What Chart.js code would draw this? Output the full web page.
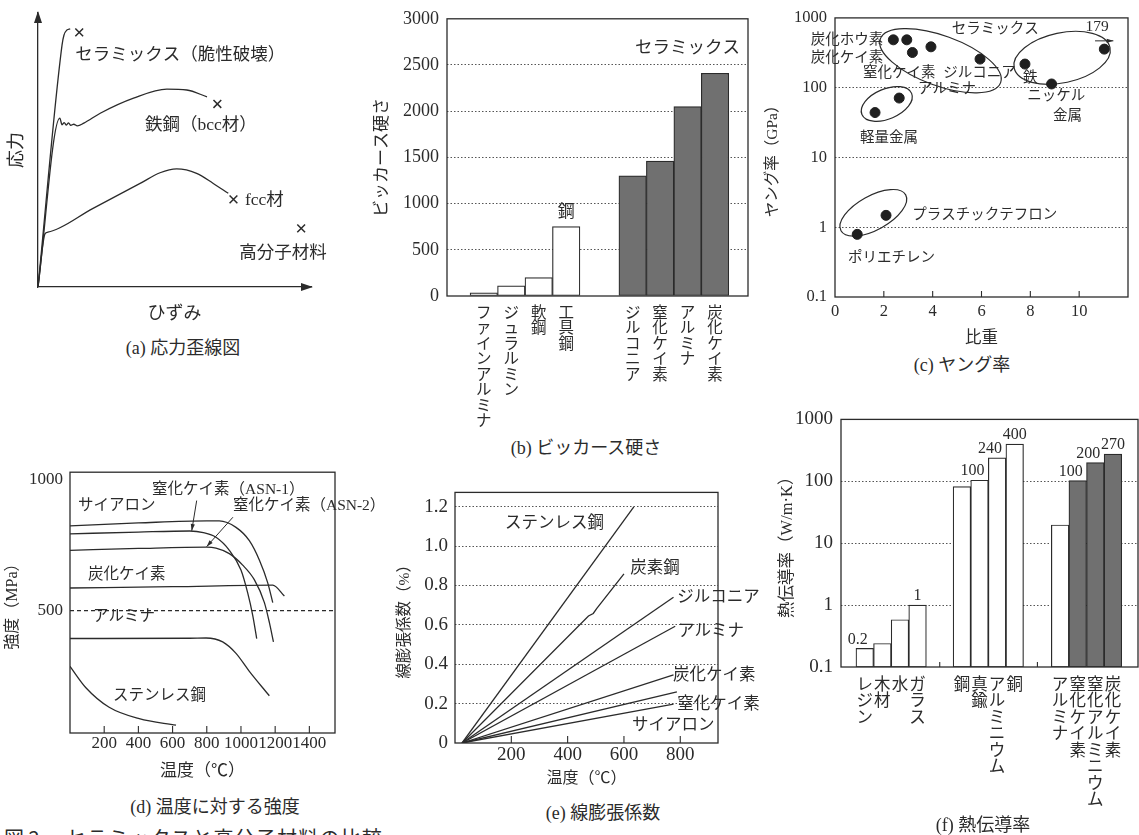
<!DOCTYPE html>
<html lang="ja">
<head>
<meta charset="utf-8">
<title>図2 セラミックスと高分子材料の比較</title>
<script src="https://cdn.jsdelivr.net/npm/chart.js@4.4.1/dist/chart.umd.min.js"></script>
<style>
  html, body { margin: 0; padding: 0; background: #fff; }
  body { position: relative; width: 1139px; height: 835px; overflow: hidden; color: #2b2b2b;
         font-family: 'Liberation Serif', 'Noto Sans CJK JP', serif; }
  canvas { position: absolute; }
  .cap { position: absolute; font-size: 18px; line-height: 1; white-space: nowrap; transform: translate(-50%, -50%); }
  .fig { position: absolute; left: 4px; top: 828px; font-family: 'Noto Sans CJK JP', sans-serif;
         font-size: 20px; line-height: 1; white-space: nowrap; }
  .fig span + span { margin-left: 26px; letter-spacing: 1.2px; }
</style>
</head>
<body>
<canvas id="chartA"></canvas>
<canvas id="chartB"></canvas>
<canvas id="chartC"></canvas>
<canvas id="chartD"></canvas>
<canvas id="chartE"></canvas>
<canvas id="chartF"></canvas>

<div class="cap" style="left:183px; top:348px">(a) 応力歪線図</div>
<div class="cap" style="left:586px; top:448px">(b) ビッカース硬さ</div>
<div class="cap" style="left:962px; top:365px">(c) ヤング率</div>
<div class="cap" style="left:215px; top:807px">(d) 温度に対する強度</div>
<div class="cap" style="left:603px; top:813px">(e) 線膨張係数</div>
<div class="cap" style="left:983px; top:825px">(f) 熱伝導率</div>
<div class="fig"><span>図 2</span><span>セラミックスと高分子材料の比較</span></div>

<script>
// ---- (a) stress-strain sketch (arbitrary units 0-100) ----
const ceramicStrain = [0, 8.8, 9.5, 10.6, 11.8];
const ceramicStress = [0, 88.3, 91.9, 93.8, 94.2];
const bccStrain = [0, 8.0, 8.8, 9.6, 10.4, 11.2, 12.0, 13.1, 14.4, 16.8, 22.8, 35, 47.2, 54.5, 61.9];
const bccStress = [0, 61.6, 59.2, 60.0, 59.1, 59.9, 59.0, 59.4, 58.8, 59.8, 63.4, 68.9, 72.2, 71.9, 69.4];
const fccStrain = [0, 2.6, 3.6, 20, 37.4, 44.7, 50.8, 58.1, 64.2, 69.7];
const fccStress = [0, 19.5, 20.0, 28.6, 37.8, 41.7, 43.1, 41.5, 37.8, 34.2];
const breakStrain = [15.1, 65.7, 71.6, 96.4];
const breakStress = [92.9, 66.8, 32.0, 21.4];

// ---- (b) Vickers hardness ----
const hardnessNames = ['ファインアルミナ', 'ジュラルミン', '軟鋼', '工具鋼', 'ジルコニア', '窒化ケイ素', 'アルミナ', '炭化ケイ素'];
const hardnessValues = [35, 110, 200, 750, 1300, 1460, 2050, 2410];
const hardnessSlots = [1.34, 2.34, 3.34, 4.34, 6.76, 7.76, 8.76, 9.76];
const hardnessCeramic = [false, false, false, false, true, true, true, true];
const hardnessTicks = [0, 500, 1000, 1500, 2000, 2500, 3000];

// ---- (c) Young's modulus vs specific gravity ----
const specificGravity = [2.39, 2.94, 3.17, 3.93, 5.94, 7.78, 8.87, 11.03, 1.64, 2.63, 0.91, 2.09];
const youngModulus = [485, 485, 319, 385, 257, 218, 113, 357, 44, 71, 0.79, 1.48];
const gravityTicks = [0, 2, 4, 6, 8, 10];
const youngTicks = [0.1, 1, 10, 100, 1000];
const youngTickLabels = ['0.1', '1', '10', '100', '1000'];

// ---- (d) strength vs temperature ----
const sialonT = [0, 400, 800, 873, 971, 1049, 1108, 1157, 1186];
const sialonS = [824, 835, 843, 843, 818, 767, 692, 604, 529];
const asn1T = [0, 400, 700, 780, 854, 932, 1000, 1039, 1069, 1092];
const asn1S = [793, 800, 804, 798, 780, 730, 654, 567, 479, 391];
const asn2T = [0, 400, 800, 854, 932, 1010, 1078, 1137, 1166, 1190];
const asn2S = [730, 737, 742, 738, 717, 673, 617, 529, 453, 378];
const sicT = [0, 600, 1186, 1254];
const sicS = [585, 590, 596, 554];
const aluminaT = [0, 700, 796, 893, 971, 1049, 1166];
const aluminaS = [391, 392, 393, 378, 334, 265, 171];
const stainlessT = [0, 93, 229, 405, 620];
const stainlessS = [284, 202, 127, 83, 58];
const strengthTempTicks = [200, 400, 600, 800, 1000, 1200, 1400];
const strengthTicks = [500, 1000];

// ---- (e) linear thermal expansion ----
const stainlessExpT = [25, 635];
const stainlessExp = [0, 1.2];
const carbonExpT = [25, 474, 491, 503, 600];
const carbonExp = [0, 0.645, 0.658, 0.683, 0.859];
const zirconiaExpT = [25, 776];
const zirconiaExp = [0, 0.74];
const aluminaExpT = [25, 782];
const aluminaExp = [0, 0.593];
const sicExpT = [25, 776];
const sicExp = [0, 0.346];
const si3n4ExpT = [25, 788];
const si3n4Exp = [0, 0.26];
const sialonExpT = [25, 776];
const sialonExp = [0, 0.198];
const expTempTicks = [200, 400, 600, 800];
const expTicks = [0, 0.2, 0.4, 0.6, 0.8, 1.0, 1.2];
const expTickLabels = ['0', '0.2', '0.4', '0.6', '0.8', '1.0', '1.2'];

// ---- (f) thermal conductivity ----
const thermalNames = ['レジン', '木材', '水', 'ガラス', '鋼', '真鍮', 'アルミニウム', '銅', 'アルミナ', '窒化ケイ素', '窒化アルミニウム', '炭化ケイ素'];
const thermalValues = [0.2, 0.24, 0.58, 1, 82, 104, 240, 400, 19.7, 103, 200, 275];
const thermalLabels = ['0.2', '', '', '1', '', '100', '240', '400', '', '100', '200', '270'];
const thermalSlots = [1.35, 2.35, 3.35, 4.35, 6.87, 7.87, 8.87, 9.87, 12.45, 13.45, 14.45, 15.45];
const thermalCeramic = [false, false, false, false, false, false, false, false, false, true, true, true];
const thermalTicks = [0.1, 1, 10, 100, 1000];
const thermalTickLabels = ['0.1', '1', '10', '100', '1000'];

const TEXT = "'Liberation Serif', 'Noto Sans CJK JP', serif";
const JP = "'Noto Sans CJK JP', sans-serif";
const INK = '#2b2b2b';
const GREY = '#707070';
const CLEAR = 'rgba(0,0,0,0)';

Chart.defaults.font.family = TEXT;
Chart.defaults.color = INK;
Chart.defaults.animation = false;
Chart.defaults.responsive = false;
Chart.defaults.plugins.legend.display = false;
Chart.defaults.plugins.tooltip.enabled = false;

const pts = (xs, ys) => xs.map((x, i) => ({ x: x, y: ys[i] }));
const fixTicks = values => scale => { scale.ticks = values.map(v => ({ value: v })); };

// size the canvas so that the plot box lands where the figure has it
function place(id, area, pad) {
    const c = document.getElementById(id);
    const w = area.r - area.l + pad.left + pad.right;
    const h = area.b - area.t + pad.top + pad.bottom;
    c.width = w;
    c.height = h;
    c.style.left = (area.l - pad.left) + 'px';
    c.style.top = (area.t - pad.top) + 'px';
    c.style.width = w + 'px';
    c.style.height = h + 'px';
}
const layoutFor = pad => ({ padding: { top: pad.top, right: pad.right, left: 0, bottom: 0 } });

const curve = (xs, ys, smooth) => ({
    data: pts(xs, ys),
    borderColor: INK,
    borderWidth: 1.3,
    pointRadius: 0,
    fill: false,
    cubicInterpolationMode: smooth ? 'monotone' : 'default',
    tension: 0
});

const dottedGrid = keep => ({
    color: c => keep(c.tick.value) ? '#555' : CLEAR,
    lineWidth: 1,
    drawTicks: false
});

// plot box outline
const framePlugin = {
    id: 'frame',
    afterDatasetsDraw(chart) {
        const { ctx, chartArea: a } = chart;
        ctx.save();
        ctx.strokeStyle = INK;
        ctx.lineWidth = 1.3;
        ctx.strokeRect(a.left, a.top, a.right - a.left, a.bottom - a.top);
        ctx.restore();
    }
};

// short tick marks pointing into the plot from the bottom edge
function innerTicks(len, values) {
    return {
        id: 'innerTicks',
        afterDatasetsDraw(chart) {
            const { ctx, chartArea: a } = chart;
            const sc = chart.scales.x;
            const list = values || sc.ticks.map(t => t.value);
            ctx.save();
            ctx.strokeStyle = INK;
            ctx.lineWidth = 1.1;
            list.forEach(v => {
                const px = sc.getPixelForValue(v);
                if (px <= a.left + 1 || px >= a.right - 1) return;
                ctx.beginPath();
                ctx.moveTo(px, a.bottom);
                ctx.lineTo(px, a.bottom - len);
                ctx.stroke();
            });
            ctx.restore();
        }
    };
}

// text labels and arrows placed in data units
function notes(items, size, arrows) {
    return {
        id: 'notes',
        afterDraw(chart) {
            const { ctx } = chart;
            const xs = chart.scales.x, ys = chart.scales.y;
            ctx.save();
            ctx.fillStyle = INK;
            ctx.strokeStyle = INK;
            ctx.lineWidth = 1;
            ctx.textBaseline = 'middle';
            items.forEach(n => {
                ctx.font = (n.size || size) + 'px ' + TEXT;
                ctx.textAlign = n.align || 'left';
                ctx.fillText(n.text, xs.getPixelForValue(n.x), ys.getPixelForValue(n.y));
            });
            (arrows || []).forEach(ar => {
                const x1 = xs.getPixelForValue(ar[0]), y1 = ys.getPixelForValue(ar[1]);
                const x2 = xs.getPixelForValue(ar[2]), y2 = ys.getPixelForValue(ar[3]);
                const ang = Math.atan2(y2 - y1, x2 - x1);
                ctx.beginPath();
                ctx.moveTo(x1, y1);
                ctx.lineTo(x2, y2);
                ctx.stroke();
                ctx.beginPath();
                ctx.moveTo(x2, y2);
                ctx.lineTo(x2 - 7 * Math.cos(ang - 0.3), y2 - 7 * Math.sin(ang - 0.3));
                ctx.lineTo(x2 - 7 * Math.cos(ang + 0.3), y2 - 7 * Math.sin(ang + 0.3));
                ctx.closePath();
                ctx.fill();
            });
            ctx.restore();
        }
    };
}

const axisArrows = {
    id: 'axisArrows',
    afterDraw(chart) {
        const { ctx, chartArea: a } = chart;
        ctx.save();
        ctx.fillStyle = INK;
        ctx.beginPath();
        ctx.moveTo(a.left, a.top - 2);
        ctx.lineTo(a.left - 4, a.top + 10);
        ctx.lineTo(a.left + 4, a.top + 10);
        ctx.closePath();
        ctx.fill();
        ctx.beginPath();
        ctx.moveTo(a.right + 2, a.bottom);
        ctx.lineTo(a.right - 10, a.bottom - 4);
        ctx.lineTo(a.right - 10, a.bottom + 4);
        ctx.closePath();
        ctx.fill();
        ctx.restore();
    }
};

// ================= (a) =================
const areaA = { l: 38, t: 13, r: 311, b: 287 };
const padA = { left: 38, top: 13, right: 25, bottom: 38 };
place('chartA', areaA, padA);
new Chart('chartA', {
    type: 'line',
    data: {
        datasets: [
            curve(ceramicStrain, ceramicStress, true),
            curve(bccStrain, bccStress, true),
            curve(fccStrain, fccStress, true),
            {
                data: pts(breakStrain, breakStress),
                showLine: false,
                pointStyle: 'crossRot',
                pointRadius: 5.5,
                pointBorderColor: INK,
                pointBorderWidth: 1.5
            }
        ]
    },
    options: {
        layout: layoutFor(padA),
        scales: {
            x: {
                type: 'linear', min: 0, max: 100,
                ticks: { display: false },
                grid: { display: false },
                border: { color: INK, width: 1.3 },
                afterFit: s => { s.height = padA.bottom; },
                title: { display: true, text: 'ひずみ', font: { family: JP, size: 18 }, padding: { top: 0, bottom: 2.5 } }
            },
            y: {
                min: 0, max: 100,
                ticks: { display: false },
                grid: { display: false },
                border: { color: INK, width: 1.3 },
                afterFit: s => { s.width = padA.left; },
                title: { display: true, text: '応力', font: { family: JP, size: 18 }, padding: { top: 4, bottom: 0 } }
            }
        }
    },
    plugins: [axisArrows, notes([
        { text: 'セラミックス（脆性破壊）', x: 13.6, y: 84.7 },
        { text: '鉄鋼（bcc材）', x: 39.2, y: 59.1 },
        { text: 'fcc材', x: 75.8, y: 31.7 },
        { text: '高分子材料', x: 89.7, y: 12.4, align: 'center' }
    ], 17.5)]
});

// ================= (b) =================
const areaB = { l: 447, t: 12, r: 748, b: 296 };
const padB = { left: 80, top: 12, right: 8, bottom: 140 };
place('chartB', areaB, padB);
new Chart('chartB', {
    type: 'bar',
    data: {
        datasets: [{
            data: pts(hardnessSlots, hardnessValues),
            backgroundColor: hardnessCeramic.map(c => c ? GREY : '#fff'),
            borderColor: INK,
            borderWidth: 1.2,
            borderSkipped: false,
            barPercentage: 1,
            categoryPercentage: 1
        }]
    },
    options: {
        layout: layoutFor(padB),
        scales: {
            x: {
                type: 'linear', min: 0, max: 10.96, offset: false, bounds: 'data',
                afterBuildTicks: fixTicks(hardnessSlots),
                afterFit: s => { s.height = padB.bottom; },
                grid: { display: false, drawTicks: false },
                border: { display: false },
                ticks: {
                    autoSkip: false, maxRotation: 0, minRotation: 0, padding: 8,
                    font: { family: JP, size: 15.5, lineHeight: 1.0 },
                    callback: (v, i) => Array.from(hardnessNames[i])
                }
            },
            y: {
                min: 0, max: 3000, bounds: 'data',
                afterBuildTicks: fixTicks(hardnessTicks),
                afterFit: s => { s.width = padB.left; },
                grid: dottedGrid(v => v > 0 && v < 3000),
                border: { display: false, dash: [1.5, 2] },
                ticks: { autoSkip: false, padding: 8, font: { size: 18 }, callback: v => String(v) },
                title: { display: true, text: 'ビッカース硬さ', font: { family: JP, size: 17 }, padding: { top: 3, bottom: 0 } }
            }
        }
    },
    plugins: [framePlugin, notes([
        { text: 'セラミックス', x: 10.67, y: 2680, align: 'right', size: 17.5 },
        { text: '鋼', x: 4.34, y: 905, align: 'center' }
    ], 17)]
});

// ================= (c) =================
const areaC = { l: 835, t: 17, r: 1128, b: 297 };
const padC = { left: 75, top: 17, right: 11, bottom: 50 };
place('chartC', areaC, padC);
const groupRings = {
    id: 'groupRings',
    beforeDatasetsDraw(chart) {
        const { ctx } = chart;
        const xs = chart.scales.x, ys = chart.scales.y;
        // ceramics, metals, light metals, plastics
        const rings = [
            { x: 4.32, y: 243, rx: 64, ry: 25, rot: 20 },
            { x: 9.3, y: 268, rx: 49, ry: 25, rot: -12 },
            { x: 2.12, y: 58.5, rx: 27, ry: 15, rot: -23 },
            { x: 1.57, y: 1.61, rx: 37, ry: 17, rot: -29 }
        ];
        ctx.save();
        ctx.strokeStyle = INK;
        ctx.lineWidth = 1.2;
        rings.forEach(r => {
            ctx.beginPath();
            ctx.ellipse(xs.getPixelForValue(r.x), ys.getPixelForValue(r.y), r.rx, r.ry, r.rot * Math.PI / 180, 0, 2 * Math.PI);
            ctx.stroke();
        });
        ctx.restore();
    }
};
new Chart('chartC', {
    type: 'scatter',
    data: {
        datasets: [{
            data: pts(specificGravity, youngModulus),
            pointRadius: 5,
            pointBackgroundColor: '#1f1f1f',
            pointBorderColor: '#1f1f1f'
        }]
    },
    options: {
        layout: layoutFor(padC),
        scales: {
            x: {
                type: 'linear', min: 0, max: 12, bounds: 'data',
                afterBuildTicks: fixTicks(gravityTicks),
                afterFit: s => { s.height = padC.bottom; },
                grid: { display: false, drawTicks: false },
                border: { display: false },
                ticks: { autoSkip: false, maxRotation: 0, padding: 5, font: { size: 16.5 }, callback: v => String(v) },
                title: { display: true, text: '比重', font: { family: JP, size: 16.5 }, padding: { top: 0, bottom: 0 } }
            },
            y: {
                type: 'logarithmic', min: 0.1, max: 1000, bounds: 'data',
                afterBuildTicks: fixTicks(youngTicks),
                afterFit: s => { s.width = padC.left; },
                grid: dottedGrid(v => v > 0.5 && v < 500),
                border: { display: false, dash: [1.5, 2] },
                ticks: { autoSkip: false, padding: 8, font: { size: 16.5 }, callback: (v, i) => youngTickLabels[i] },
                title: { display: true, text: 'ヤング率（GPa）', font: { size: 15.5 }, padding: { top: 4, bottom: 0 } }
            }
        }
    },
    plugins: [groupRings, framePlugin, innerTicks(6), notes([
        { text: 'セラミックス', x: 4.78, y: 689 },
        { text: '179', x: 10.74, y: 736, align: 'center', size: 15.5 },
        { text: '炭化ホウ素', x: 1.98, y: 475, align: 'right' },
        { text: '炭化ケイ素', x: 1.98, y: 263, align: 'right' },
        { text: '窒化ケイ素', x: 1.15, y: 162 },
        { text: 'ジルコニア', x: 4.43, y: 162 },
        { text: 'アルミナ', x: 3.4, y: 96 },
        { text: '鉄', x: 7.7, y: 138 },
        { text: 'ニッケル', x: 7.87, y: 76 },
        { text: '金属', x: 8.93, y: 39.5 },
        { text: '軽量金属', x: 1.02, y: 19.1 },
        { text: 'プラスチックテフロン', x: 3.16, y: 1.47 },
        { text: 'ポリエチレン', x: 0.53, y: 0.357 }
    ], 14.5, [[10.65, 469, 11.4, 469]])]
});

// ================= (d) =================
const areaD = { l: 70, t: 467, r: 335, b: 733 };
const padD = { left: 70, top: 12, right: 62, bottom: 50 };
place('chartD', areaD, padD);
new Chart('chartD', {
    type: 'line',
    data: {
        datasets: [
            curve(sialonT, sialonS, true),
            curve(asn1T, asn1S, true),
            curve(asn2T, asn2S, true),
            curve(sicT, sicS, true),
            curve(aluminaT, aluminaS, true),
            curve(stainlessT, stainlessS, true)
        ]
    },
    options: {
        layout: layoutFor(padD),
        scales: {
            x: {
                type: 'linear', min: 0, max: 1550, bounds: 'data',
                afterBuildTicks: fixTicks(strengthTempTicks),
                afterFit: s => { s.height = padD.bottom; },
                grid: { display: false, drawTicks: false },
                border: { display: false },
                ticks: { autoSkip: false, maxRotation: 0, padding: 0, font: { size: 17 }, callback: v => String(v) },
                title: { display: true, text: '温度（℃）', font: { size: 17 }, padding: { top: 0, bottom: 1 } }
            },
            y: {
                min: 28, max: 1030, bounds: 'data',
                afterBuildTicks: fixTicks(strengthTicks),
                afterFit: s => { s.width = padD.left; },
                grid: { color: c => c.tick.value === 500 ? INK : CLEAR, lineWidth: 1.2, drawTicks: false },
                border: { display: false, dash: [4, 3] },
                ticks: { autoSkip: false, padding: 7, font: { size: 17 }, callback: v => String(v) },
                title: { display: true, text: '強度（MPa）', font: { size: 16 }, padding: { top: 3, bottom: 0 } }
            }
        }
    },
    plugins: [framePlugin, innerTicks(7), notes([
        { text: '窒化ケイ素（ASN-1）', x: 480, y: 962 },
        { text: 'サイアロン', x: 47, y: 899 },
        { text: '窒化ケイ素（ASN-2）', x: 953, y: 899 },
        { text: '炭化ケイ素', x: 105, y: 636 },
        { text: 'アルミナ', x: 135, y: 473 },
        { text: 'ステンレス鋼', x: 251, y: 171 }
    ], 15.5, [[741, 921, 712, 805], [953, 857, 799, 744]])]
});

// ================= (e) =================
const areaE = { l: 455, t: 482, r: 718, b: 743 };
const padE = { left: 63, top: 8, right: 45, bottom: 46 };
place('chartE', areaE, padE);
new Chart('chartE', {
    type: 'line',
    data: {
        datasets: [
            curve(stainlessExpT, stainlessExp, false),
            curve(carbonExpT, carbonExp, false),
            curve(zirconiaExpT, zirconiaExp, false),
            curve(aluminaExpT, aluminaExp, false),
            curve(sicExpT, sicExp, false),
            curve(si3n4ExpT, si3n4Exp, false),
            curve(sialonExpT, sialonExp, false)
        ]
    },
    options: {
        layout: layoutFor(padE),
        scales: {
            x: {
                type: 'linear', min: 0, max: 934, bounds: 'data',
                afterBuildTicks: fixTicks(expTempTicks),
                afterFit: s => { s.height = padE.bottom; },
                grid: { display: false, drawTicks: false },
                border: { display: false },
                ticks: { autoSkip: false, maxRotation: 0, padding: 1, font: { size: 19 }, callback: v => String(v) },
                title: { display: true, text: '温度（℃）', font: { size: 16 }, padding: { top: 0, bottom: 1 } }
            },
            y: {
                min: 0, max: 1.273, bounds: 'data',
                afterBuildTicks: fixTicks(expTicks),
                afterFit: s => { s.width = padE.left; },
                grid: dottedGrid(v => v > 0.01),
                border: { display: false, dash: [1.5, 2] },
                ticks: { autoSkip: false, padding: 7, font: { size: 19 }, callback: (v, i) => expTickLabels[i] },
                title: { display: true, text: '線膨張係数（%）', font: { size: 15.5 }, padding: { top: 4, bottom: 0 } }
            }
        }
    },
    plugins: [framePlugin, innerTicks(7), notes([
        { text: 'ステンレス鋼', x: 178, y: 1.112 },
        { text: '炭素鋼', x: 622, y: 0.888 },
        { text: 'ジルコニア', x: 789, y: 0.737 },
        { text: 'アルミナ', x: 792, y: 0.566 },
        { text: '炭化ケイ素', x: 774, y: 0.341 },
        { text: '窒化ケイ素', x: 789, y: 0.195 },
        { text: 'サイアロン', x: 629, y: 0.088 }
    ], 16.5)]
});

// ================= (f) =================
const areaF = { l: 841, t: 412, r: 1138, b: 667 };
const padF = { left: 70, top: 12, right: 1, bottom: 160 };
place('chartF', areaF, padF);

// marks between the three material groups
const groupBreaks = [];
thermalSlots.forEach((s, i) => {
    if (i > 0 && s - thermalSlots[i - 1] > 1.5) groupBreaks.push((s + thermalSlots[i - 1]) / 2);
});

const barValues = {
    id: 'barValues',
    afterDatasetsDraw(chart) {
        const { ctx } = chart;
        const bars = chart.getDatasetMeta(0).data;
        ctx.save();
        ctx.font = '16px ' + TEXT;
        ctx.fillStyle = INK;
        ctx.textAlign = 'center';
        ctx.textBaseline = 'bottom';
        bars.forEach((bar, i) => {
            if (!thermalLabels[i]) return;
            // nudge left when the neighbour on the right is taller
            const nextTaller = i + 1 < thermalValues.length &&
                thermalSlots[i + 1] - thermalSlots[i] < 1.5 &&
                thermalValues[i + 1] > thermalValues[i];
            ctx.fillText(thermalLabels[i], bar.x + (nextTaller ? -7 : 0), bar.y - 1);
        });
        ctx.restore();
    }
};

new Chart('chartF', {
    type: 'bar',
    data: {
        datasets: [{
            data: pts(thermalSlots, thermalValues),
            backgroundColor: thermalCeramic.map(c => c ? GREY : '#fff'),
            borderColor: INK,
            borderWidth: 1.2,
            borderSkipped: false,
            barPercentage: 1,
            categoryPercentage: 1
        }]
    },
    options: {
        layout: layoutFor(padF),
        scales: {
            x: {
                type: 'linear', min: 0, max: 16.875, offset: false, bounds: 'data',
                afterBuildTicks: fixTicks(thermalSlots),
                afterFit: s => { s.height = padF.bottom; },
                grid: { display: false, drawTicks: false },
                border: { display: false },
                ticks: {
                    autoSkip: false, maxRotation: 0, minRotation: 0, padding: 8,
                    font: { family: JP, size: 16.5, lineHeight: 1.0 },
                    callback: (v, i) => Array.from(thermalNames[i])
                }
            },
            y: {
                type: 'logarithmic', min: 0.1, max: 1000, bounds: 'data',
                afterBuildTicks: fixTicks(thermalTicks),
                afterFit: s => { s.width = padF.left; },
                grid: dottedGrid(v => v > 0.5 && v < 500),
                border: { display: false, dash: [1.5, 2] },
                ticks: { autoSkip: false, padding: 8, font: { size: 19 }, callback: (v, i) => thermalTickLabels[i] },
                title: { display: true, text: '熱伝導率（W/m·K）', font: { size: 16.5 }, padding: { top: 7, bottom: 0 } }
            }
        }
    },
    plugins: [framePlugin, innerTicks(5, groupBreaks), barValues]
});
</script>
</body>
</html>
